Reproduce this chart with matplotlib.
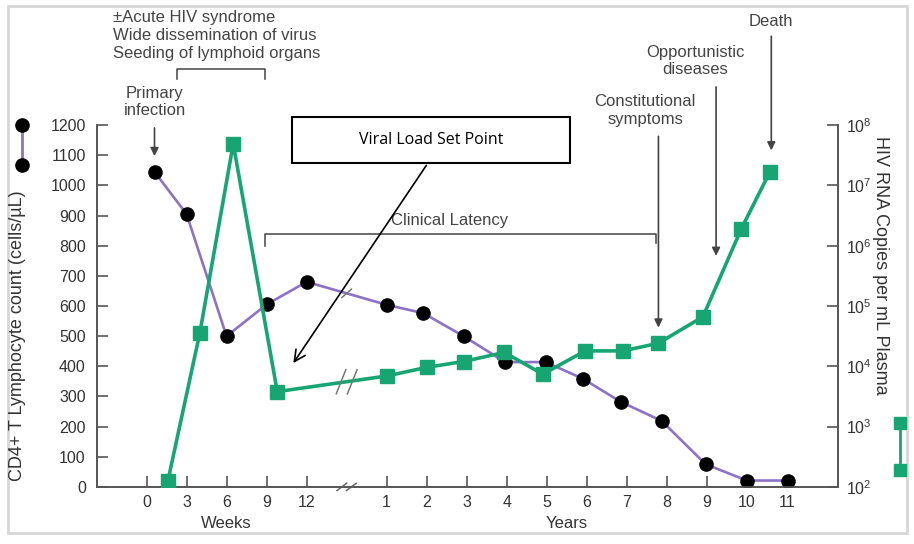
import numpy as np
import matplotlib
matplotlib.use('Agg')
import matplotlib.pyplot as plt
from matplotlib.lines import Line2D
from matplotlib.patches import Rectangle

plt.rcParams['font.family'] = ['Liberation Sans', 'DejaVu Sans']
plt.rcParams['mathtext.default'] = 'regular'

# CD4 count (cells/uL): weeks part and years part
cd4_weeks = [0.6, 3, 6, 9, 12]
cd4_weeks_vals = [1045, 905, 500, 605, 680]
cd4_years = [1, 1.92, 2.92, 3.96, 4.97, 5.9, 6.85, 7.87, 8.97, 10, 11.02]
cd4_years_vals = [604, 576, 500, 414, 414, 359, 282, 219, 75, 21, 21]

# HIV RNA copies per mL plasma
rna_weeks = [1.6, 4, 6.5, 9.8]
rna_weeks_vals = [125, 3.6e4, 4.9e7, 3.8e3]
rna_years = [1, 2, 2.92, 3.94, 4.9, 5.96, 6.9, 7.78, 8.9, 9.86, 10.58]
rna_years_vals = [6.9e3, 9.6e3, 1.2e4, 1.7e4, 7.4e3, 1.8e4, 1.8e4, 2.4e4, 6.6e4, 1.9e6, 1.7e7]

week_ticks = [0, 3, 6, 9, 12]
year_ticks = list(range(1, 12))
cd4_ticks = list(range(0, 1201, 100))
rna_ticks = [1e2, 1e3, 1e4, 1e5, 1e6, 1e7, 1e8]


def wk(v):
    return np.asarray(v, dtype=float) / 3.0


def yr(v):
    return 5.0 + np.asarray(v, dtype=float)


PURPLE = '#8b72c4'
GREEN = '#17a673'
GRAY = '#444444'
SPINE = '#555555'

fig = plt.figure(figsize=(9.14, 5.44), dpi=100)
ax = fig.add_axes([0.106, 0.105, 0.811, 0.665])
ax2 = ax.twinx()

cd4_x = np.concatenate([wk(cd4_weeks), yr(cd4_years)])
cd4_y = cd4_weeks_vals + cd4_years_vals
rna_x = np.concatenate([wk(rna_weeks), yr(rna_years)])
rna_y = rna_weeks_vals + rna_years_vals

ax.plot(cd4_x, cd4_y, color=PURPLE, lw=1.9, marker='o', ms=9.5,
        mfc='black', mec='black', zorder=3)
ax2.plot(rna_x, rna_y, color=GREEN, lw=2.6, marker='s', ms=9.5,
         mfc=GREEN, mec=GREEN, zorder=3)

ax.set_xlim(-1.24, 17.28)
ax.set_ylim(0, 1200)
ax2.set_ylim(1e2, 1e8)
ax2.set_yscale('log')

ax.set_yticks(cd4_ticks)
ax.set_yticklabels([str(t) for t in cd4_ticks], fontsize=11.5, color='#333333')
ax2.set_yticks(rna_ticks)
ax2.set_yticklabels(['$10^{%d}$' % int(np.log10(t)) for t in rna_ticks],
                    fontsize=11.5, color='#333333')
ax2.yaxis.set_minor_locator(matplotlib.ticker.NullLocator())

xt = list(wk(week_ticks)) + list(yr(year_ticks))
ax.set_xticks(xt)
ax.set_xticklabels([str(t) for t in week_ticks] + [str(t) for t in year_ticks],
                   fontsize=11.5, color='#333333')

for a in (ax, ax2):
    a.spines['top'].set_visible(False)
    for s in ('left', 'right', 'bottom'):
        a.spines[s].set_color(SPINE)
        a.spines[s].set_linewidth(1.2)
ax.tick_params(axis='y', direction='in', length=8, width=1.2, color=SPINE, pad=8)
ax.tick_params(axis='x', direction='in', length=8, width=1.2, color=SPINE, pad=6)
ax2.tick_params(axis='y', direction='in', length=8, width=1.2, color=SPINE, pad=6)

# axis titles
fig.text(18 / 914, 1 - 336 / 544, 'CD4+ T Lymphocyte count (cells/\u00b5L)', fontsize=13,
         color='#333333', rotation=90, ha='center', va='center')
fig.text(880 / 914, 1 - 265 / 544, 'HIV RNA Copies per mL Plasma', fontsize=13,
         color='#333333', rotation=-90, ha='center', va='center')

ax.text(wk(6), -0.1, 'Weeks', transform=ax.get_xaxis_transform(),
        ha='center', va='center', fontsize=12, color='#333333')
ax.text(yr(5.5), -0.1, 'Years', transform=ax.get_xaxis_transform(),
        ha='center', va='center', fontsize=12, color='#333333')

# axis breaks (//)
brk_x = 5.0
for dx in (-0.12, 0.12):
    ax.plot([brk_x + dx - 0.12, brk_x + dx + 0.12], [-12, 12], color='#666666',
            lw=1.1, clip_on=False, zorder=5)
cd4_b = np.interp(brk_x, cd4_x, cd4_y)
ax.plot([brk_x - 0.12, brk_x + 0.12], [cd4_b - 14, cd4_b + 14], color='#777777',
        lw=1.1, zorder=5)
rna_b = 10 ** np.interp(brk_x, rna_x, np.log10(rna_y))
for dx in (-0.14, 0.14):
    ax2.plot([brk_x + dx - 0.12, brk_x + dx + 0.12],
             [rna_b * 10 ** -0.2, rna_b * 10 ** 0.2], color='#777777', lw=1.1, zorder=5)

# annotations
arrow_kw = dict(arrowstyle='-|>', color=GRAY, lw=1.2, mutation_scale=12)
txt_kw = dict(fontsize=12, color=GRAY, ha='center', va='center')

ax.text(-0.84, 1583, '\u00b1Acute HIV syndrome\nWide dissemination of virus\n'
        'Seeding of lymphoid organs', fontsize=12, color=GRAY, ha='left', va='top',
        linespacing=1.25, clip_on=False)
ax.plot([0.76, 0.76, 2.96, 2.96], [1352, 1385, 1385, 1352], color=GRAY, lw=1.1,
        clip_on=False)

ax.text(wk(0.6), 1277, 'Primary\ninfection', linespacing=1.2, clip_on=False, **txt_kw)
ax.annotate('', xy=(wk(0.6), 1088), xytext=(wk(0.6), 1200),
            arrowprops=arrow_kw, annotation_clip=False)

ax.plot([2.96, 2.96, 12.74, 12.74], [800, 840, 840, 810], color=GRAY, lw=1.1)
ax.text(7.56, 883, 'Clinical Latency', **txt_kw)

ax.text(12.46, 1248, 'Constitutional\nsymptoms', linespacing=1.2, clip_on=False,
        **txt_kw)
ax.annotate('', xy=(12.79, 519), xytext=(12.79, 1172),
            arrowprops=arrow_kw, annotation_clip=False)

ax.text(13.71, 1412, 'Opportunistic\ndiseases', linespacing=1.2, clip_on=False,
        **txt_kw)
ax.annotate('', xy=(14.23, 757), xytext=(14.23, 1336),
            arrowprops=arrow_kw, annotation_clip=False)

ax.text(15.61, 1545, 'Death', clip_on=False, **txt_kw)
ax.annotate('', xy=(15.61, 1107), xytext=(15.61, 1504),
            arrowprops=arrow_kw, annotation_clip=False)

ax.add_patch(Rectangle((3.63, 1074), 6.95, 152, fill=True, facecolor='white',
                       edgecolor='black', lw=1.5, zorder=6, clip_on=False))
ax.text(7.12, 1150, 'Viral Load Set Point', fontsize=11.5, color='black',
        ha='center', va='center', family=['Open Sans', 'DejaVu Sans'], zorder=7)
ax.annotate('', xy=(3.63, 403), xytext=(7.03, 1074),
            arrowprops=dict(arrowstyle='->', color='black', lw=1.2, mutation_scale=20),
            zorder=6)

# key markers beside the axis labels
fig.add_artist(Line2D([22 / 914, 22 / 914], [1 - 125 / 544, 1 - 165 / 544],
                      color=PURPLE, lw=2, marker='o', ms=9.5, mfc='black', mec='black'))
fig.add_artist(Line2D([900 / 914, 900 / 914], [1 - 423 / 544, 1 - 470 / 544],
                      color=GREEN, lw=2, marker='s', ms=8.5, mfc=GREEN, mec=GREEN))

# outer frame
fig.add_artist(Rectangle((8 / 914, 1 - 533 / 544), 899 / 914, 527 / 544,
                         fill=False, edgecolor='#d6d6d6', lw=2,
                         transform=fig.transFigure))

fig.savefig('out.png', dpi=100)
